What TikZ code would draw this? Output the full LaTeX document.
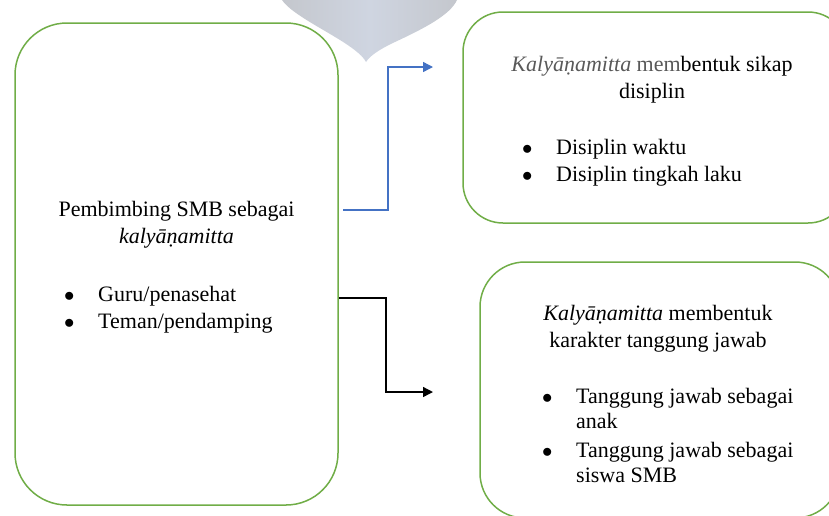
\documentclass[tikz,border=0pt]{standalone}
\usepackage{xcolor}
\usepackage{fontspec}
\setmainfont{Liberation Serif}
\usepackage{tikz}
\usetikzlibrary{calc,arrows.meta}

\definecolor{boxgreen}{RGB}{112,173,71}
\definecolor{arrblue}{RGB}{68,114,196}
\definecolor{dropedge}{RGB}{196,199,205}
\definecolor{dropmid}{RGB}{207,213,225}
\definecolor{textgray}{RGB}{89,89,89}

\newcommand{\blt}{$\bullet$}

\tikzset{
    greenbox/.style={draw=boxgreen, line width=1.5pt, rounded corners=#1, inner sep=0pt},
    txt/.style={inner sep=0pt, font=\fontsize{22}{27}\selectfont},
    flowarr/.style={line width=1.4pt, -{Triangle[length=10pt,width=10pt]}}
}

\begin{document}
\begin{tikzpicture}[x=1pt, y=-1pt]
    \useasboundingbox (0,0) rectangle (829,515);
    \clip (0,0) rectangle (829,515);
    % drop at the top
    \shade[left color=dropedge, right color=dropedge, middle color=dropmid]
        (282,0) .. controls (292,15) and (330,32) .. (352,48)
        .. controls (360,54) and (364,58) .. (366,62)
        .. controls (370,56) and (378,50) .. (395,42)
        .. controls (425,28) and (450,15) .. (457,0) -- cycle;

    % boxes
    \node[greenbox=52pt, minimum width=323pt, minimum height=482pt] (lbox) at (176.5,264) {};
    \node[greenbox=40pt, minimum width=385pt, minimum height=211pt] (sikap) at (655.5,117.5) {};
    \node[greenbox=45pt, minimum width=360pt, minimum height=256pt] (karakter) at (660,390) {};

    % texts
    \node[txt, anchor=base] (lhead) at (176.5,216)
        {\begin{tabular}[t]{@{}c@{}}Pembimbing SMB sebagai\\ \textit{kalyāṇamitta}\end{tabular}};
    \node[txt, anchor=base west] (llist) at (64,301)
        {\begin{tabular}[t]{@{}p{34pt}@{}l@{}}\blt & Guru/penasehat\\ \blt & Teman/pendamping\end{tabular}};

    \node[txt, anchor=base] (shead) at (652,71)
        {\begin{tabular}[t]{@{}c@{}}{\color{textgray}\textit{Kalyāṇamitta} mem}bentuk sikap\\ disiplin\end{tabular}};
    \node[txt, anchor=base west] (slist) at (522,154)
        {\begin{tabular}[t]{@{}p{34pt}@{}l@{}}\blt & Disiplin waktu\\ \blt & Disiplin tingkah laku\end{tabular}};

    \node[txt, anchor=base] (khead) at (658,320)
        {\begin{tabular}[t]{@{}c@{}}\textit{Kalyāṇamitta} membentuk\\ karakter tanggung jawab\end{tabular}};
    \node[txt, font=\fontsize{22}{25}\selectfont, anchor=base west] (klist) at (542,403)
        {\begin{tabular}[t]{@{}p{34pt}@{}l@{}}\blt & Tanggung jawab sebagai\\ & anak\\[4pt] \blt & Tanggung jawab sebagai\\ & siswa SMB\end{tabular}};

    % arrows
    \coordinate (blueout) at (343,210);
    \coordinate (bluetip) at (433,67);
    \coordinate (blackout) at (lbox.east |- 0,298);
    \coordinate (blacktip) at (433,392);
    \draw[flowarr, arrblue] (blueout) -| ($(blueout)!.5!(bluetip)$) |- (bluetip);
    \draw[flowarr, black] (blackout) -| ($(blackout)!.5!(blacktip)$) |- (blacktip);
\end{tikzpicture}
\end{document}
